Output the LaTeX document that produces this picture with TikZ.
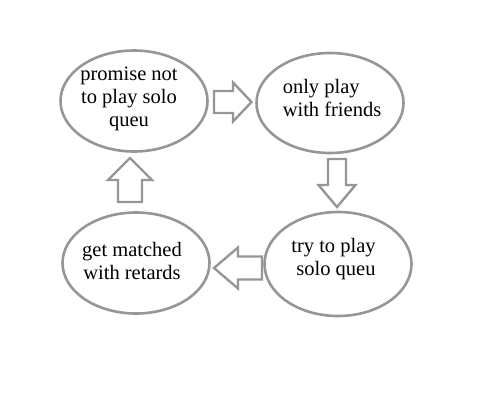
\documentclass[tikz,border=0pt]{standalone}
\usepackage{fontspec}
\setmainfont{Liberation Serif}
\newfontfamily\diagfont{Liberation Serif}
\usetikzlibrary{shapes.geometric}
\definecolor{sketch}{RGB}{150,150,150}
\tikzset{
  bubble/.style={ellipse, draw=sketch, line width=2.6pt, minimum width=147pt, minimum height=101pt, inner sep=0pt},
  txt/.style={font=\diagfont\fontsize{20.5pt}{23pt}\selectfont, inner sep=0pt, text=black},
  blockarrow/.style={draw=sketch, line width=2.4pt, line join=miter, fill=white}
}
\begin{document}
\begin{tikzpicture}[x=1pt,y=-1pt]
\useasboundingbox (0,0) rectangle (490,418);
\node[bubble] (tl) at (134,101) {};
\node[bubble, minimum height=100pt] (tr) at (330,103) {};
\node[bubble, minimum height=104pt] (br) at (338,264) {};
\node[bubble] (bl) at (136,263) {};
\node[txt, align=center] (ttl) at (129,98.5) {promise not\\to play solo\\queu};
\node[txt, align=left] (ttr) at (332,97.5) {only play\\with friends};
\node[txt, align=left] (tbr) at (333.5,259) {try to play\\\hspace{5pt}solo queu};
\node[txt, align=center] (tbl) at (132,261) {get matched\\with retards};
% right arrow between tl and tr
\coordinate (ar) at (214,102);
\draw[blockarrow] (ar) ++(0,-11) -- ++(19,0) -- ++(0,-8.5) -- ++(18.5,19.5) -- ++(-18.5,19.5) -- ++(0,-8.5) -- ++(-19,0) -- cycle;
% down arrow between tr and br
\coordinate (ad) at (337,159);
\draw[blockarrow] (ad) ++(-9,0) -- ++(0,26) -- ++(-9.5,0) -- ++(18.5,22) -- ++(18.5,-22) -- ++(-9.5,0) -- ++(0,-26) -- cycle;
% left arrow between br and bl
\coordinate (al) at (262,268);
\draw[blockarrow] (al) ++(0,-11.5) -- ++(-24,0) -- ++(0,-9) -- ++(-24,20.5) -- ++(24,20.5) -- ++(0,-9) -- ++(24,0) -- cycle;
% up arrow between bl and tl
\coordinate (au) at (130,202);
\draw[blockarrow] (au) ++(-12,0) -- ++(0,-22) -- ++(-10,0) -- ++(22,-22) -- ++(22,22) -- ++(-10,0) -- ++(0,22) -- cycle;
\end{tikzpicture}
\end{document}
